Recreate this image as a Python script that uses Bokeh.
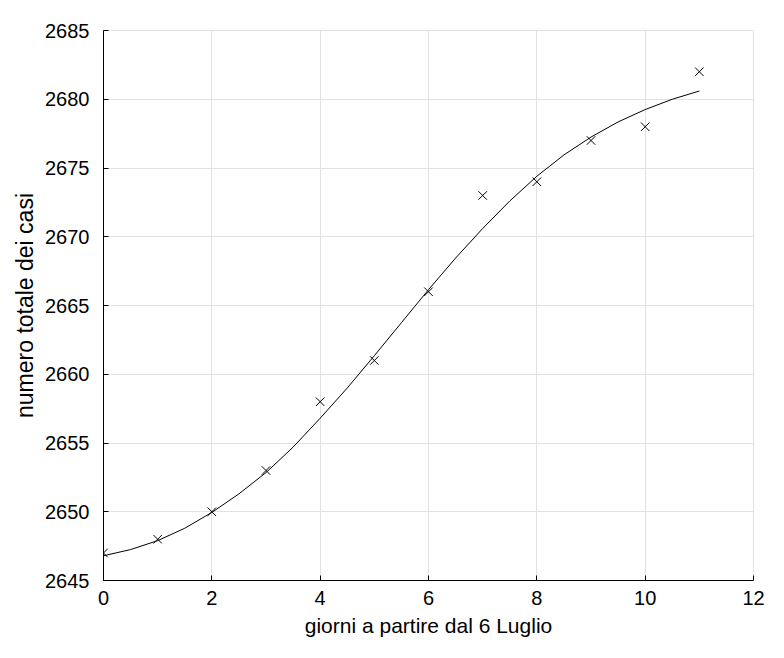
from bokeh.plotting import figure
from bokeh.models import Range1d, FixedTicker
from bokeh.embed import file_html
from bokeh.resources import INLINE

# observed data
giorni = [0, 1, 2, 3, 4, 5, 6, 7, 8, 9, 10, 11]
casi = [2647, 2648, 2650, 2653, 2658, 2661, 2666, 2673, 2674, 2677, 2678, 2682]

# fitted curve
fit_x = [0, 0.5, 1, 1.5, 2, 2.5, 3, 3.5, 4, 4.5, 5, 5.5, 6, 6.5, 7, 7.5, 8, 8.5, 9, 9.5, 10, 10.5, 11]
fit_y = [2646.8, 2647.25, 2647.9, 2648.8, 2649.95, 2651.3, 2652.85, 2654.7, 2656.8, 2659.0, 2661.35,
         2663.75, 2666.15, 2668.45, 2670.6, 2672.6, 2674.4, 2675.95, 2677.25, 2678.35, 2679.25, 2680.0, 2680.6]

x_ticks = [0, 2, 4, 6, 8, 10, 12]
y_ticks = [2645, 2650, 2655, 2660, 2665, 2670, 2675, 2680, 2685]

x_label = "giorni a partire dal 6 Luglio"
y_label = "numero totale dei casi"

FONT = "Liberation Sans"

p = figure(width=768, height=646, output_backend="svg", toolbar_location=None,
           x_range=Range1d(0, 12), y_range=Range1d(2645, 2685),
           min_border_left=103, min_border_right=15, min_border_top=30, min_border_bottom=66)

p.outline_line_color = "#e2e2e2"
p.outline_line_width = 1
p.background_fill_color = "white"

for ax in (p.xaxis[0], p.yaxis[0]):
    ax.major_tick_in = 5
    ax.major_tick_out = 0
    ax.major_tick_line_color = "black"
    ax.minor_tick_line_color = None
    ax.axis_line_color = "black"
    ax.major_label_text_font = FONT
    ax.major_label_text_font_size = "20px"
    ax.major_label_text_color = "black"
    ax.axis_label_text_font = FONT
    ax.axis_label_text_font_style = "normal"
    ax.axis_label_text_color = "black"

p.xaxis[0].ticker = FixedTicker(ticks=x_ticks)
p.yaxis[0].ticker = FixedTicker(ticks=y_ticks)
p.xaxis[0].major_label_standoff = 10
p.yaxis[0].major_label_standoff = 14

p.xaxis[0].axis_label = x_label
p.xaxis[0].axis_label_text_font_size = "21px"
p.xaxis[0].axis_label_standoff = 6
p.yaxis[0].axis_label = y_label
p.yaxis[0].axis_label_text_font_size = "23px"
p.yaxis[0].axis_label_standoff = 4

p.grid.grid_line_color = "#e2e2e2"
p.grid.grid_line_width = 1
p.xgrid.ticker = FixedTicker(ticks=x_ticks)
p.ygrid.ticker = FixedTicker(ticks=y_ticks)

p.line(fit_x, fit_y, line_color="black", line_width=1)
p.scatter(giorni, casi, marker="x", size=12, line_color="black", line_width=1)

open("out.html", "w").write(file_html(p, INLINE))
